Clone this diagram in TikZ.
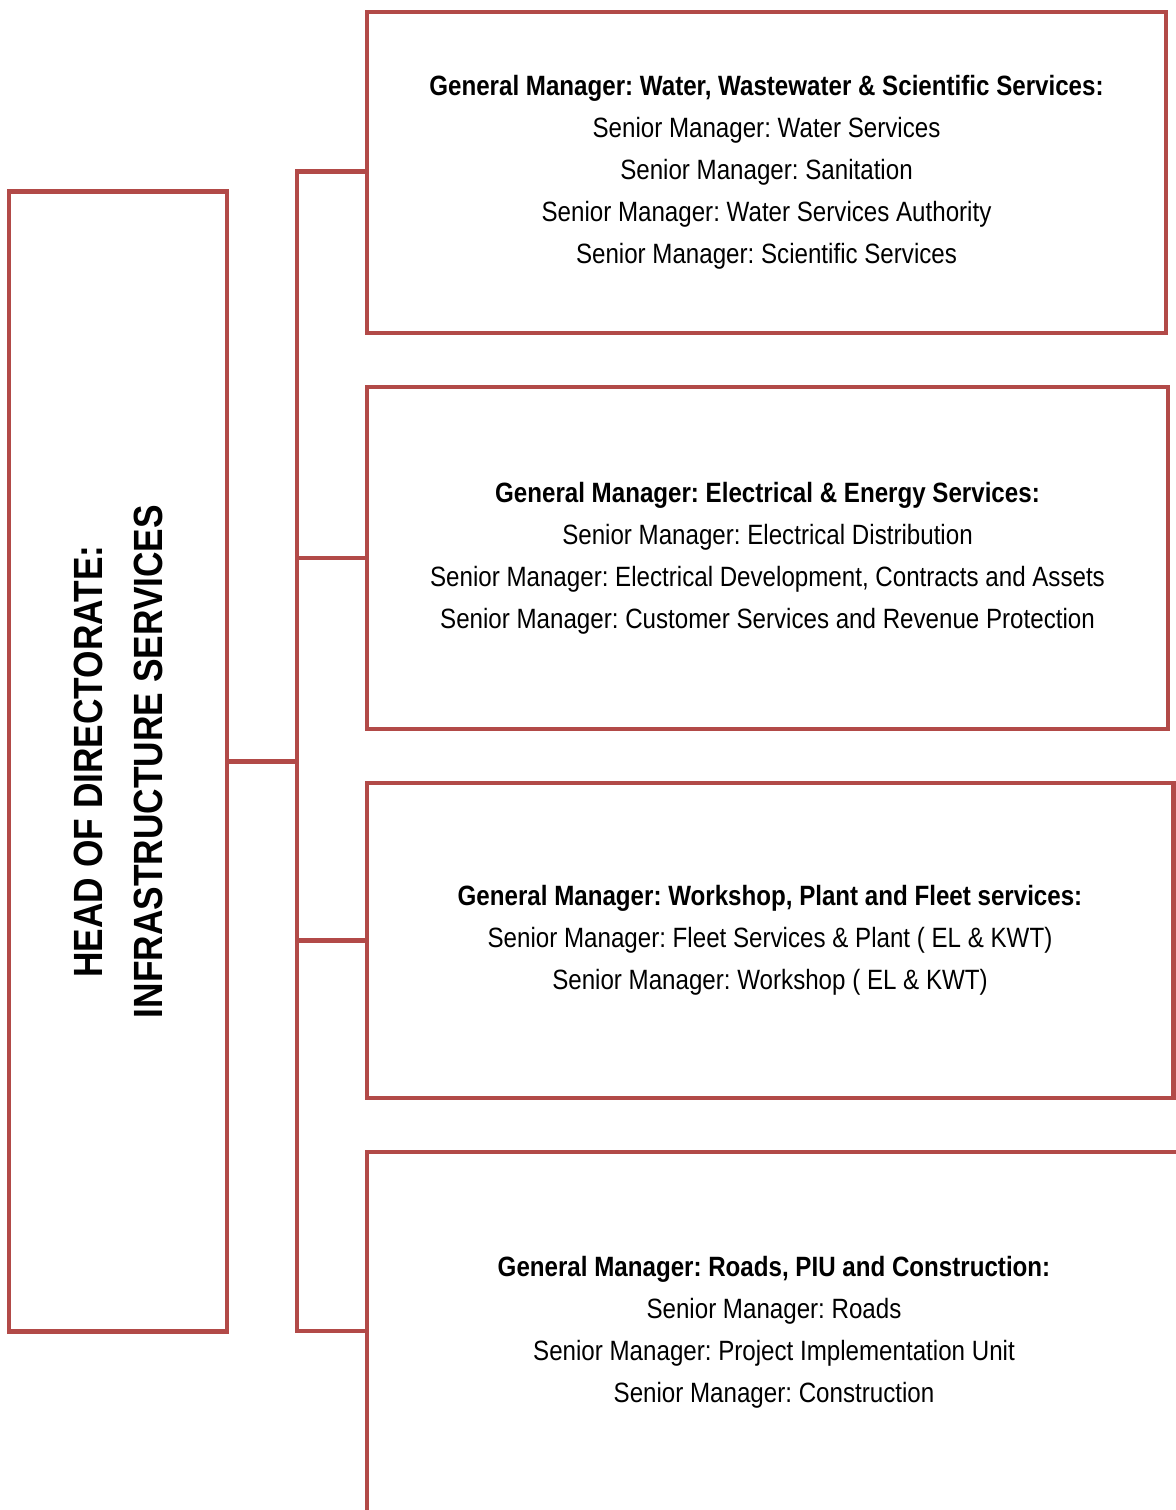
\documentclass[tikz,border=0pt]{standalone}
\usepackage{fontspec}
\setmainfont{Liberation Sans}[FakeStretch=0.865]
\usepackage{xcolor}
\usetikzlibrary{positioning}
\definecolor{orgred}{RGB}{178,74,72}
\frenchspacing

\begin{document}
\begin{tikzpicture}[
  x=0.3333pt, y=-0.3333pt,
  font=\fontsize{9.3}{14}\selectfont,
  unit/.style={draw=orgred, line width=1.6pt, align=center, inner sep=0pt},
  link/.style={draw=orgred, line width=1.6pt}
]
\clip (0,0) rectangle (1176,1510);
\node[unit, minimum width=72.7pt, minimum height=379.7pt] (head) at (118,761.5) {};
\node[rotate=90, align=center, font=\fontsize{13.6}{20}\selectfont\bfseries] (headlbl) at (head.center)
  {HEAD OF DIRECTORATE:\\INFRASTRUCTURE SERVICES};
\node[unit, minimum width=266.3pt, minimum height=107pt] (gmwater) at (766.5,172.5)
  {\textbf{General Manager: Water, Wastewater \& Scientific Services:}\\
   Senior Manager: Water Services\\
   Senior Manager: Sanitation\\
   Senior Manager: Water Services Authority\\
   Senior Manager: Scientific Services};
\node[unit, minimum width=267pt, minimum height=114pt] (gmelec) at (767.5,558)
  {\textbf{General Manager: Electrical \& Energy Services:}\\
   Senior Manager: Electrical Distribution\\
   Senior Manager: Electrical Development, Contracts and Assets\\
   Senior Manager: Customer Services and Revenue Protection};
\node[unit, minimum width=268.7pt, minimum height=105pt] (gmfleet) at (770,940.5)
  {\textbf{General Manager: Workshop, Plant and Fleet services:}\\
   Senior Manager: Fleet Services \& Plant ( EL \& KWT)\\
   Senior Manager: Workshop ( EL \& KWT)};
\node[unit, minimum width=271.3pt, minimum height=120pt] (gmroads) at (774,1332)
  {\textbf{General Manager: Roads, PIU and Construction:}\\
   Senior Manager: Roads\\
   Senior Manager: Project Implementation Unit\\
   Senior Manager: Construction};
\coordinate (bustop) at (297,171.5);
\coordinate (busbot) at (297,1331);
\draw[link] (gmwater.west |- bustop) -- (bustop) -- (busbot) -- (gmroads.west |- busbot);
\draw[link] (head.east) -- (head.east -| bustop);
\draw[link] (gmelec.west) -- (gmelec.west -| bustop);
\draw[link] (gmfleet.west) -- (gmfleet.west -| bustop);
\end{tikzpicture}
\end{document}
